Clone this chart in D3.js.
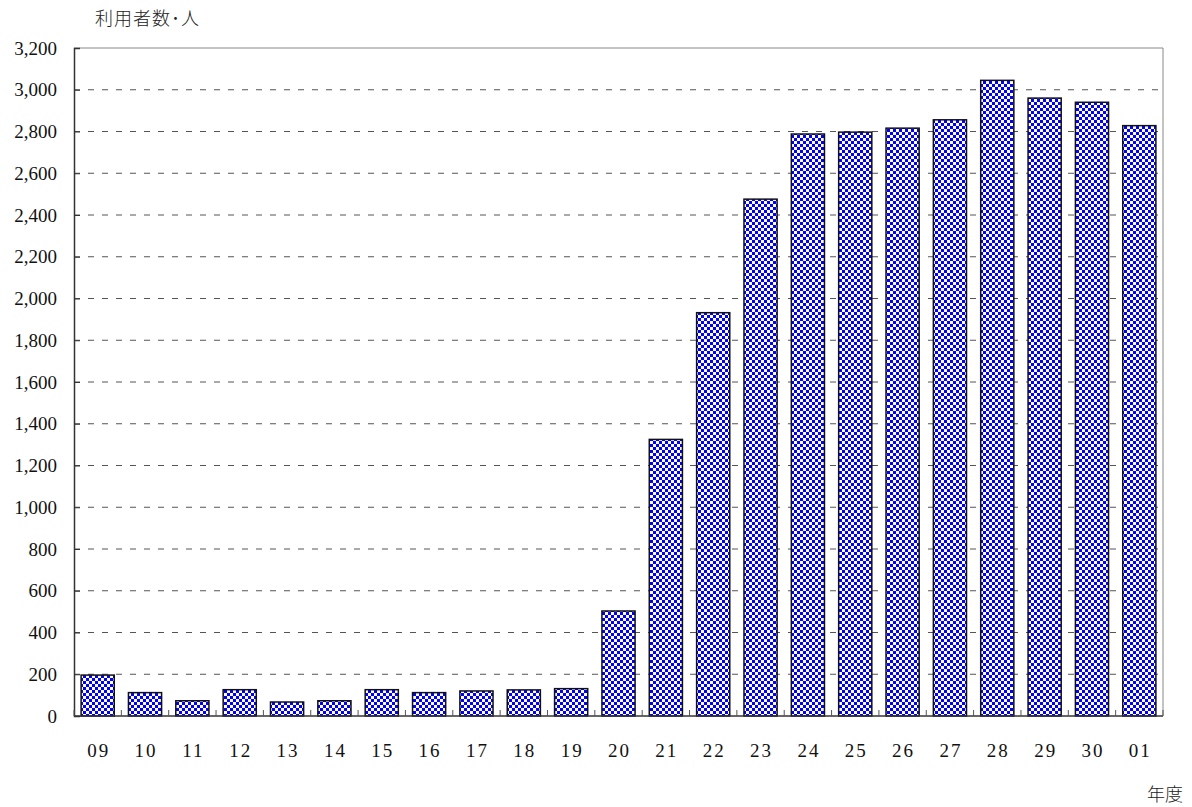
<!DOCTYPE html>
<html>
<head>
    <meta charset="utf-8">
    <title>利用者数</title>
    <script src="https://d3js.org/d3.v7.min.js"></script>
    <style>
        body {
            margin: 0;
            padding: 0;
            background-color: #ffffff;
            overflow: hidden;
        }
        .tick-label {
            font-family: "Liberation Serif", "DejaVu Serif", serif;
            font-size: 19px;
            fill: #111;
        }
        .cjk {
            font-family: "Noto Sans CJK JP", sans-serif;
            font-weight: 300;
            fill: #222;
        }
    </style>
</head>
<body>
    <div id="chart"></div>
    <script>
        // Fiscal years (two digits) and users per year
        const years = ['09', '10', '11', '12', '13', '14', '15', '16', '17', '18', '19', '20',
                       '21', '22', '23', '24', '25', '26', '27', '28', '29', '30', '01'];
        const users = [196, 112, 73, 126, 67, 73, 126, 112, 120, 125, 131, 503,
                       1325, 1932, 2476, 2788, 2797, 2816, 2856, 3045, 2960, 2940, 2828];
        const yTicks = [0, 200, 400, 600, 800, 1000, 1200, 1400, 1600, 1800, 2000,
                        2200, 2400, 2600, 2800, 3000, 3200];

        const width = 1192;
        const height = 807;
        const margin = { top: 48, right: 29, bottom: 91, left: 74 };
        const innerW = width - margin.left - margin.right;
        const innerH = height - margin.top - margin.bottom;

        const svg = d3.select('#chart')
            .append('svg')
            .attr('width', width)
            .attr('height', height);

        // Blue/white checker fill
        const pattern = svg.append('defs')
            .append('pattern')
            .attr('id', 'checker')
            .attr('patternUnits', 'userSpaceOnUse')
            .attr('width', 6)
            .attr('height', 6);
        pattern.append('rect').attr('width', 6).attr('height', 6).attr('fill', '#fff');
        pattern.append('rect').attr('width', 3).attr('height', 3).attr('fill', '#0000ff');
        pattern.append('rect').attr('x', 3).attr('y', 3).attr('width', 3).attr('height', 3).attr('fill', '#0000ff');

        const g = svg.append('g')
            .attr('transform', `translate(${margin.left},${margin.top})`);

        const x = d3.scaleBand()
            .domain(years)
            .range([0, innerW])
            .paddingInner(0.3)
            .paddingOuter(0.15);

        const y = d3.scaleLinear()
            .domain([0, 3200])
            .range([innerH, 0]);

        // Dashed grid lines
        g.append('g')
            .selectAll('line')
            .data(yTicks.filter(d => d > 0 && d < 3200))
            .join('line')
            .attr('x1', 0)
            .attr('x2', innerW)
            .attr('y1', d => y(d))
            .attr('y2', d => y(d))
            .attr('stroke', '#555')
            .attr('stroke-width', 1)
            .attr('stroke-dasharray', '6,8');

        // Top and right frame
        g.append('line')
            .attr('x1', 0).attr('x2', innerW)
            .attr('y1', 0).attr('y2', 0)
            .attr('stroke', '#888').attr('stroke-width', 1);
        g.append('line')
            .attr('x1', innerW).attr('x2', innerW)
            .attr('y1', 0).attr('y2', innerH)
            .attr('stroke', '#888').attr('stroke-width', 1);

        // Bars
        g.append('g')
            .selectAll('rect')
            .data(users)
            .join('rect')
            .attr('x', (d, i) => x(years[i]))
            .attr('y', d => y(d))
            .attr('width', x.bandwidth())
            .attr('height', d => innerH - y(d))
            .attr('fill', 'url(#checker)')
            .attr('stroke', '#111')
            .attr('stroke-width', 1.5);

        // Y axis
        const yAxis = g.append('g')
            .call(d3.axisLeft(y)
                .tickValues(yTicks)
                .tickSize(-6)
                .tickPadding(17)
                .tickFormat(d3.format(',')));
        yAxis.select('.domain').attr('stroke', '#333').attr('stroke-width', 1.5);
        yAxis.selectAll('.tick line').attr('stroke', '#333');
        yAxis.selectAll('.tick text')
            .attr('class', 'tick-label')
            .attr('font-family', null)
            .attr('font-size', null);

        // X axis: short ticks on category boundaries
        const step = x.step();
        const boundaries = d3.range(years.length + 1).map(i => x(years[0]) - x.paddingOuter() * step + i * step);
        const xAxis = g.append('g')
            .attr('transform', `translate(0,${innerH})`);
        xAxis.append('line')
            .attr('x1', 0).attr('x2', innerW)
            .attr('stroke', '#333').attr('stroke-width', 1.5);
        xAxis.selectAll('line.tk')
            .data(boundaries)
            .join('line')
            .attr('class', 'tk')
            .attr('x1', d => d).attr('x2', d => d)
            .attr('y1', 0).attr('y2', -6)
            .attr('stroke', '#555');
        xAxis.selectAll('text')
            .data(years)
            .join('text')
            .attr('class', 'tick-label')
            .attr('x', d => x(d) + x.bandwidth() / 2 + 1)
            .attr('y', 41)
            .attr('text-anchor', 'middle')
            .attr('font-size', 20)
            .attr('letter-spacing', 2)
            .text(d => d);

        // Axis titles
        svg.append('text')
            .attr('class', 'cjk')
            .attr('x', 95)
            .attr('y', 25)
            .attr('font-size', 18)
            .attr('letter-spacing', 1)
            .text('利用者数･人');

        svg.append('text')
            .attr('class', 'cjk')
            .attr('x', 1183)
            .attr('y', 801)
            .attr('text-anchor', 'end')
            .attr('font-size', 18)
            .text('年度');
    </script>
</body>
</html>
